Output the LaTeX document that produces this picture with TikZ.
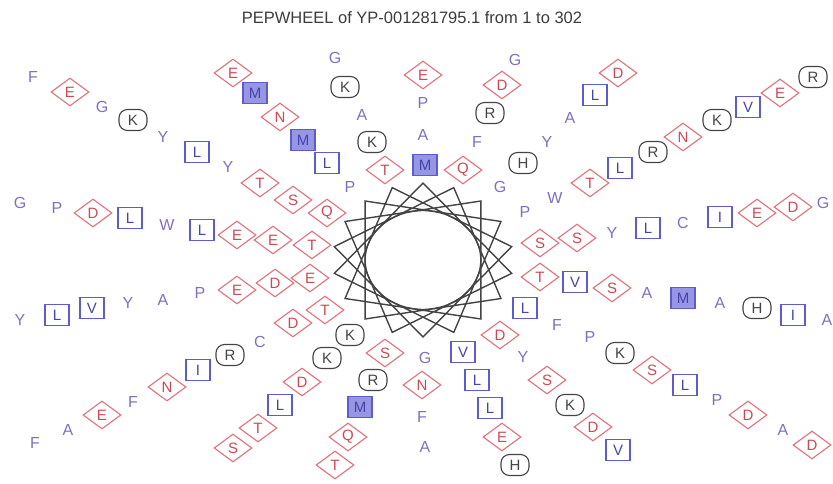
\documentclass[tikz,border=0pt]{standalone}
\usepackage{fontspec}
\setmainfont{Liberation Sans}
\usetikzlibrary{shapes.geometric,calc}
\definecolor{plaincol}{RGB}{128,112,192}
\definecolor{dmline}{RGB}{226,112,122}
\definecolor{dmtext}{RGB}{205,72,84}
\definecolor{sqline}{RGB}{92,92,205}
\definecolor{sqtext}{RGB}{68,68,172}
\definecolor{sqfill}{RGB}{150,150,228}
\definecolor{occol}{RGB}{68,68,68}
\definecolor{titlecol}{RGB}{60,60,60}
\tikzset{
 res/.style={font=\fontsize{15}{15}\selectfont, inner sep=0pt, line width=1.1pt},
 pl/.style={res, text=plaincol, font=\fontsize{16}{16}\selectfont},
 dm/.style={res, diamond, draw=dmline, text=dmtext, minimum width=38pt, minimum height=28pt},
 sq/.style={res, rectangle, draw=sqline, text=sqtext, minimum width=24pt, minimum height=21pt},
 sqf/.style={sq, fill=sqfill},
 oc/.style={res, rectangle, rounded corners=8.5pt, draw=occol, text=occol, minimum width=28pt, minimum height=21pt},
 wheel/.style={draw=occol, line width=1.4pt, line join=miter}
}
\begin{document}
\begin{tikzpicture}[x=1pt,y=-1pt]
\useasboundingbox (0,0) rectangle (833,484);
\node[font=\fontsize{16.5}{16.5}\selectfont, text=titlecol] (title) at (412,18) {PEPWHEEL of YP-001281795.1 from 1 to 302};
% central wheel
\coordinate (c) at (423,260);
\foreach \k in {0,...,17}{
  \pgfmathsetmacro\ang{-(10+20*\k)}
  \coordinate (v\k) at ($(c)+(\ang:90 and 77)$);
}
\draw[wheel] (v0) \foreach \k in {1,...,17}{ \pgfextra{\pgfmathtruncatemacro\j{mod(5*\k,18)}} -- (v\j) } -- cycle;
\draw[wheel] (c) ellipse [x radius=57.9, y radius=49.5];
% spoke 90
\node[dm] (a1) at (423,75) {E};
\node[pl] (a2) at (423,103) {P};
\node[pl] (a3) at (423,135) {A};
\node[sqf] (a4) at (425,165) {M};
% spoke 70
\node[pl] (b1) at (515,60) {G};
\node[dm] (b2) at (502,85) {D};
\node[oc] (b3) at (490,113) {R};
\node[pl] (b4) at (477,142) {F};
\node[dm] (b5) at (463,170) {Q};
% spoke 50
\node[dm] (c1) at (618,73) {D};
\node[sq] (c2) at (595,95) {L};
\node[pl] (c3) at (570,118) {A};
\node[pl] (c4) at (547,142) {Y};
\node[oc] (c5) at (523,163) {H};
\node[pl] (c6) at (500,187) {G};
% spoke 30
\node[oc] (d1) at (813,77) {R};
\node[dm] (d2) at (780,93) {E};
\node[sq] (d3) at (748,107) {V};
\node[oc] (d4) at (717,120) {K};
\node[dm] (d5) at (683,137) {N};
\node[oc] (d6) at (653,152) {R};
\node[sq] (d7) at (620,168) {L};
\node[dm] (d8) at (590,183) {T};
\node[pl] (d9) at (555,198) {W};
\node[pl] (d10) at (525,212) {P};
% spoke 10
\node[dm] (e1) at (540,243) {S};
\node[dm] (e2) at (577,238) {S};
\node[pl] (e3) at (612,233) {Y};
\node[sq] (e4) at (648,228) {L};
\node[pl] (e5) at (683,223) {C};
\node[sq] (e6) at (720,217) {I};
\node[dm] (e7) at (757,213) {E};
\node[dm] (e8) at (793,207) {D};
\node[pl] (e9) at (823,203) {G};
% spoke -10
\node[dm] (f1) at (540,277) {T};
\node[sq] (f2) at (575,282) {V};
\node[dm] (f3) at (612,288) {S};
\node[pl] (f4) at (647,293) {A};
\node[sqf] (f5) at (683,298) {M};
\node[pl] (f6) at (720,303) {A};
\node[oc] (f7) at (757,308) {H};
\node[sq] (f8) at (793,315) {I};
\node[pl] (f9) at (827,320) {A};
% spoke -30
\node[sq] (g1) at (525,308) {L};
\node[pl] (g2) at (557,325) {F};
\node[pl] (g3) at (590,337) {P};
\node[oc] (g4) at (620,353) {K};
\node[dm] (g5) at (652,370) {S};
\node[sq] (g6) at (685,385) {L};
\node[pl] (g7) at (717,400) {P};
\node[dm] (g8) at (748,415) {D};
\node[pl] (g9) at (783,430) {A};
\node[dm] (g10) at (812,445) {D};
% spoke -50
\node[dm] (h1) at (500,335) {D};
\node[pl] (h2) at (523,357) {Y};
\node[dm] (h3) at (547,380) {S};
\node[oc] (h4) at (570,405) {K};
\node[dm] (h5) at (593,427) {D};
\node[sq] (h6) at (618,450) {V};
% spoke -70
\node[sq] (i1) at (463,352) {V};
\node[sq] (i2) at (477,380) {L};
\node[sq] (i3) at (490,408) {L};
\node[dm] (i4) at (502,437) {E};
\node[oc] (i5) at (515,465) {H};
% spoke -90
\node[pl] (j1) at (425,358) {G};
\node[dm] (j2) at (422,385) {N};
\node[pl] (j3) at (422,417) {F};
\node[pl] (j4) at (425,447) {A};
% spoke -110
\node[dm] (k1) at (385,353) {S};
\node[oc] (k2) at (373,380) {R};
\node[sqf] (k3) at (360,407) {M};
\node[dm] (k4) at (348,437) {Q};
\node[dm] (k5) at (335,465) {T};
% spoke -130
\node[oc] (l1) at (350,335) {K};
\node[oc] (l2) at (327,358) {K};
\node[dm] (l3) at (302,382) {D};
\node[sq] (l4) at (280,405) {L};
\node[dm] (l5) at (258,428) {T};
\node[dm] (l6) at (233,448) {S};
% spoke -150
\node[dm] (m1) at (325,310) {T};
\node[dm] (m2) at (293,323) {D};
\node[pl] (m3) at (260,342) {C};
\node[oc] (m4) at (230,355) {R};
\node[sq] (m5) at (198,370) {I};
\node[dm] (m6) at (167,387) {N};
\node[pl] (m7) at (133,402) {F};
\node[dm] (m8) at (102,415) {E};
\node[pl] (m9) at (68,430) {A};
\node[pl] (m10) at (35,443) {F};
% spoke -170
\node[dm] (n1) at (310,278) {E};
\node[dm] (n2) at (275,283) {D};
\node[dm] (n3) at (237,290) {E};
\node[pl] (n4) at (200,293) {P};
\node[pl] (n5) at (163,300) {A};
\node[pl] (n6) at (128,303) {Y};
\node[sq] (n7) at (92,308) {V};
\node[sq] (n8) at (57,315) {L};
\node[pl] (n9) at (20,320) {Y};
% spoke 170
\node[dm] (o1) at (312,245) {T};
\node[dm] (o2) at (273,240) {E};
\node[dm] (o3) at (237,235) {E};
\node[sq] (o4) at (202,230) {L};
\node[pl] (o5) at (167,225) {W};
\node[sq] (o6) at (130,218) {L};
\node[dm] (o7) at (93,213) {D};
\node[pl] (o8) at (57,208) {P};
\node[pl] (o9) at (20,203) {G};
% spoke 150
\node[dm] (p1) at (327,213) {Q};
\node[dm] (p2) at (293,200) {S};
\node[dm] (p3) at (260,183) {T};
\node[pl] (p4) at (228,167) {Y};
\node[sq] (p5) at (197,152) {L};
\node[pl] (p6) at (163,137) {Y};
\node[oc] (p7) at (133,120) {K};
\node[pl] (p8) at (102,107) {G};
\node[dm] (p9) at (70,92) {E};
\node[pl] (p10) at (33,77) {F};
% spoke 130
\node[pl] (q1) at (350,187) {P};
\node[sq] (q2) at (327,163) {L};
\node[sqf] (q3) at (303,140) {M};
\node[dm] (q4) at (280,117) {N};
\node[sqf] (q5) at (255,93) {M};
\node[dm] (q6) at (233,73) {E};
% spoke 110
\node[dm] (r1) at (385,170) {T};
\node[oc] (r2) at (372,142) {K};
\node[pl] (r3) at (362,115) {A};
\node[oc] (r4) at (345,87) {K};
\node[pl] (r5) at (335,58) {G};
\end{tikzpicture}
\end{document}
